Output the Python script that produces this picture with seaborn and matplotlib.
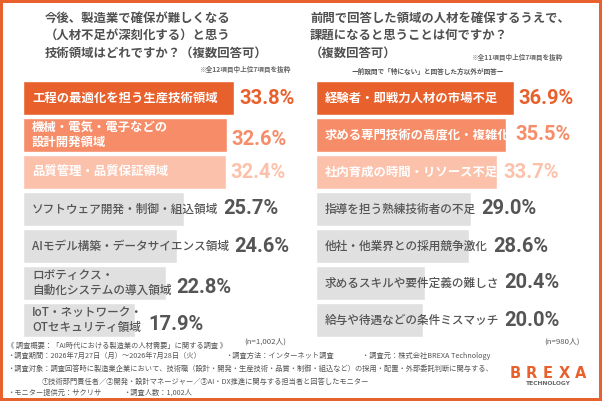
import matplotlib
matplotlib.use('Agg')
import matplotlib.pyplot as plt
import matplotlib.transforms as mtransforms
from matplotlib.patches import Rectangle
import seaborn as sns
import pandas as pd

sns.set_theme(style='white')
plt.rcParams['font.family'] = ['Noto Sans CJK JP', 'DejaVu Sans']

ORANGE = '#E8602C'
MID = '#F68D68'
PALE = '#FCC1AB'
GRAY = '#E0E0E0'
TXT = '#555555'

left_labels = ['工程の最適化を担う生産技術領域',
               '機械・電気・電子などの\n設計開発領域',
               '品質管理・品質保証領域',
               'ソフトウェア開発・制御・組込領域',
               'AIモデル構築・データサイエンス領域',
               'ロボティクス・\n自動化システムの導入領域',
               'IoT・ネットワーク・\nOTセキュリティ領域']
left_values = [33.8, 32.6, 32.4, 25.7, 24.6, 22.8, 17.9]

right_labels = ['経験者・即戦力人材の市場不足',
                '求める専門技術の高度化・複雑化',
                '社内育成の時間・リソース不足',
                '指導を担う熟練技術者の不足',
                '他社・他業界との採用競争激化',
                '求めるスキルや要件定義の難しさ',
                '給与や待遇などの条件ミスマッチ']
right_values = [36.9, 35.5, 33.7, 29.0, 28.6, 20.4, 20.0]

left_title = ['今後、製造業で確保が難しくなる',
              '（人材不足が深刻化する）と思う',
              '技術領域はどれですか？（複数回答可）']
right_title = ['前問で回答した領域の人材を確保するうえで、',
               '課題になると思うことは何ですか？',
               '（複数回答可）']

bar_colors = [ORANGE, MID, PALE, GRAY, GRAY, GRAY, GRAY]
label_colors = ['white', 'white', 'white', TXT, TXT, TXT, TXT]
value_colors = [ORANGE, MID, PALE, TXT, TXT, TXT, TXT]

W, H = 602, 401
fig = plt.figure(figsize=(6.02, 4.01), dpi=100)


def fx(px):
    return px / W


def fy(py):
    return 1 - py / H


def panel(ax, labels, values, xmax):
    df = pd.DataFrame({'item': labels, 'value': values})
    sns.barplot(data=df, x='value', y='item', hue='item', palette=bar_colors,
                legend=False, width=0.94, saturation=1, orient='h', ax=ax)
    ax.set_xlim(0, xmax)
    ax.set_ylim(6.5, -0.5)
    ax.axis('off')
    off = mtransforms.offset_copy(ax.transData, fig=fig, x=9, y=0, units='dots')
    texts = []
    for i, lab in enumerate(labels):
        bold = i < 3
        t = ax.text(0, i, lab, transform=off, ha='left', va='center',
                    fontsize=8.9 if bold else 8.4, color=label_colors[i],
                    fontweight='bold' if bold else 'medium', linespacing=1.15)
        texts.append(t)
    fig.canvas.draw()
    r = fig.canvas.get_renderer()
    for i, v in enumerate(values):
        ext = texts[i].get_window_extent(r)
        bar_end = ax.transData.transform((v, i))[0]
        xpix = max(ext.x1, bar_end) + 5
        xd = ax.transData.inverted().transform((xpix, 0))[0]
        dy = 0.13 if '\n' in labels[i] else 0
        ax.text(xd, i + dy, f'{v:.1f}%', ha='left', va='center',
                fontsize=14.5, color=value_colors[i], fontweight='bold',
                family='Roboto')


top, bot = 79.5, 338.5
axl = fig.add_axes([fx(23), fy(bot), 250 / W, (bot - top) / H])
axr = fig.add_axes([fx(316), fy(bot), 268 / W, (bot - top) / H])
panel(axl, left_labels, left_values, 40)
panel(axr, right_labels, right_values, 50)

# titles
for k, line in enumerate(left_title):
    fig.text(fx(45), fy([18, 35.5, 53][k]), line, ha='left', va='center',
             fontsize=8.9, fontweight='bold', color='#505050')
for k, line in enumerate(right_title):
    fig.text(fx(310), fy([18, 35.5, 53][k]), line, ha='left', va='center',
             fontsize=8.9, fontweight='bold', color='#505050')

fig.text(fx(290), fy(69), '※全12項目中上位7項目を抜粋', ha='right', va='center',
         fontsize=4.8, color='#666666', fontweight='bold')
fig.text(fx(562), fy(57), '※全11項目中上位7項目を抜粋', ha='right', va='center',
         fontsize=4.8, color='#666666', fontweight='bold')
fig.text(fx(428), fy(71), 'ー前設問で「特にない」と回答した方以外が回答ー', ha='center',
         va='center', fontsize=4.8, color='#555555', fontweight='bold')

fig.text(fx(286), fy(342), '(n=1,002人)', ha='right', va='center', fontsize=5.6, color=TXT)
fig.text(fx(580), fy(342), '(n=980人)', ha='right', va='center', fontsize=5.6, color=TXT)

# footer
foot = [
    (7, 346, '《 調査概要：「AI時代における製造業の人材需要」に関する調査 》'),
    (7, 355.5, '・調査期間：2026年7月27日（月）～2026年7月28日（火）'),
    (225, 355.5, '・調査方法：インターネット調査'),
    (362, 355.5, '・調査元：株式会社BREXA Technology'),
    (7, 369, '・調査対象：調査回答時に製造業企業において、技術職（設計・開発・生産技術・品質・制御・組込など）の採用・配置・外部委託判断に関与する、'),
    (42, 381.5, '①技術部門責任者／②開発・設計マネージャー／③AI・DX推進に関与する担当者と回答したモニター'),
    (7, 392.5, '・モニター提供元：サクリサ'),
    (123, 392.5, '・調査人数：1,002人'),
]
for x, y, s in foot:
    fig.text(fx(x), fy(y), s, ha='left', va='center', fontsize=5.2, color=TXT)

# logo
for k, ch in enumerate('BREXA'):
    fig.text(fx(515 + k * 16.3), fy(373), ch, ha='center', va='center', fontsize=10.5,
             fontweight='bold', color=ORANGE, family='DejaVu Sans')
fig.text(fx(548), fy(383.5), 'TECHNOLOGY', ha='center', va='center', fontsize=4.3,
         color='#666666', fontweight='bold', family='DejaVu Sans')

fig.patches.append(Rectangle((0, 0), 1, 1, transform=fig.transFigure, fill=False,
                             edgecolor=ORANGE, linewidth=4.3, figure=fig))

fig.savefig('out.png', dpi=100)
